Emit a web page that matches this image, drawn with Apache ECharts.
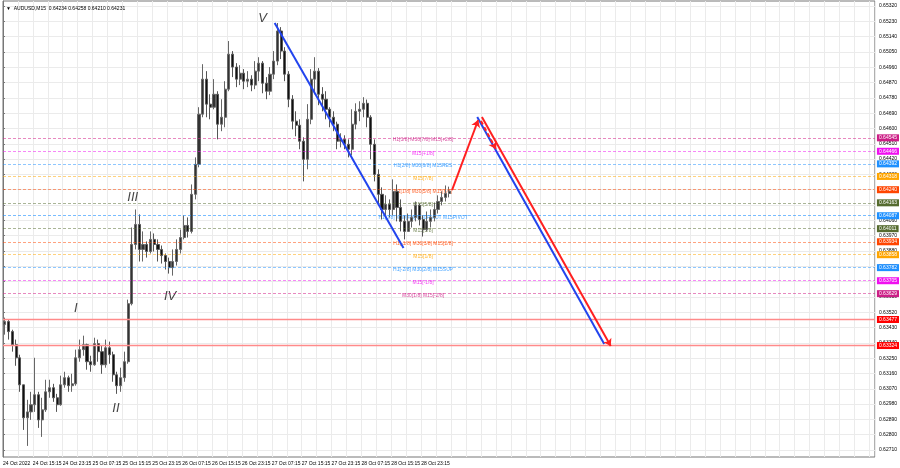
<!DOCTYPE html>
<html><head><meta charset="utf-8">
<script src="https://cdn.jsdelivr.net/npm/echarts@6/dist/echarts.min.js"></script>
<style>html,body{margin:0;padding:0;background:#fff}#c{width:900px;height:468px}</style>
</head><body><div id="c"></div>
<script>
// ---------- data ----------
const SYMBOL_TITLE = 'AUDUSD,M15  0.64234 0.64258 0.64210 0.64231';
const X_TICK_LABELS = ['24 Oct 2022','24 Oct 15:15','24 Oct 23:15','25 Oct 07:15','25 Oct 15:15','25 Oct 23:15','26 Oct 07:15','26 Oct 15:15','26 Oct 23:15','27 Oct 07:15','27 Oct 15:15','27 Oct 23:15','28 Oct 07:15','28 Oct 15:15','28 Oct 23:15'];
const Y_TICK_VALUES = [0.62710,0.62800,0.62890,0.62980,0.63070,0.63160,0.63250,0.63340,0.63430,0.63520,0.63610,0.63700,0.63790,0.63880,0.63970,0.64060,0.64150,0.64240,0.64330,0.64420,0.64510,0.64600,0.64690,0.64780,0.64870,0.64960,0.65050,0.65140,0.65230,0.65320];

// hourly candles (each spans 4 M15 bars)
const OPEN = [0.63447,0.63465,0.63406,0.63329,0.63252,0.63093,0.62899,0.62934,0.62976,0.63035,
0.62887,0.62946,0.63052,0.63076,0.63017,0.62976,0.63093,0.63135,0.63088,0.63099,
0.63252,0.63300,0.63329,0.63229,0.63211,0.63335,0.63288,0.63211,0.63311,0.63270,
0.63152,0.63088,0.63135,0.63229,0.63570,0.63918,0.64036,0.63889,0.63918,0.63877,
0.63948,0.63918,0.63889,0.63853,0.63818,0.63782,0.63818,0.63889,0.63959,0.64030,
0.63995,0.64213,0.64389,0.64684,0.64890,0.64743,0.64725,0.64801,0.64625,0.64666,
0.64831,0.65037,0.64961,0.64890,0.64925,0.64878,0.64890,0.64855,0.64937,0.64984,
0.64866,0.64819,0.64919,0.64996,0.65173,0.65055,0.64919,0.64772,0.64643,0.64619,
0.64525,0.64419,0.64654,0.64890,0.64937,0.64801,0.64772,0.64713,0.64666,0.64625,
0.64525,0.64536,0.64507,0.64478,0.64625,0.64701,0.64713,0.64748,0.64666,0.64507,
0.64330,0.64213,0.64124,0.64154,0.64124,0.64230,0.64136,0.64054,0.63995,0.64054,
0.64077,0.64148,0.64065,0.64006,0.64054,0.64077,0.64124,0.64171,0.64195,0.64218];
const CLOSE = [0.63465,0.63406,0.63329,0.63252,0.63093,0.62899,0.62934,0.62976,0.63035,0.62887,
0.62946,0.63052,0.63076,0.63017,0.62976,0.63093,0.63135,0.63088,0.63099,0.63252,
0.63300,0.63329,0.63229,0.63211,0.63335,0.63288,0.63211,0.63311,0.63270,0.63152,
0.63088,0.63135,0.63229,0.63570,0.63918,0.64036,0.63889,0.63918,0.63877,0.63948,
0.63918,0.63889,0.63853,0.63818,0.63782,0.63818,0.63889,0.63959,0.64030,0.63995,
0.64213,0.64389,0.64684,0.64890,0.64743,0.64725,0.64801,0.64625,0.64666,0.64831,
0.65037,0.64961,0.64890,0.64925,0.64878,0.64890,0.64855,0.64937,0.64984,0.64866,
0.64819,0.64919,0.64996,0.65173,0.65055,0.64919,0.64772,0.64643,0.64619,0.64525,
0.64419,0.64654,0.64890,0.64937,0.64801,0.64772,0.64713,0.64666,0.64625,0.64525,
0.64536,0.64507,0.64478,0.64625,0.64701,0.64713,0.64748,0.64666,0.64507,0.64330,
0.64213,0.64124,0.64154,0.64124,0.64230,0.64136,0.64054,0.63995,0.64054,0.64077,
0.64148,0.64065,0.64006,0.64054,0.64077,0.64124,0.64171,0.64195,0.64218,0.64231];
const LOW = [0.63388,0.63359,0.63288,0.63205,0.63052,0.62828,0.62734,0.62887,0.62934,0.62840,
0.62787,0.62934,0.63017,0.62993,0.62934,0.62970,0.63076,0.63052,0.63052,0.63088,
0.63229,0.63264,0.63182,0.63170,0.63205,0.63229,0.63158,0.63194,0.63217,0.63111,
0.63040,0.63052,0.63111,0.63217,0.63560,0.63889,0.63818,0.63818,0.63841,0.63865,
0.63877,0.63818,0.63806,0.63771,0.63747,0.63735,0.63794,0.63865,0.63948,0.63959,
0.63983,0.64183,0.64372,0.64666,0.64666,0.64654,0.64713,0.64536,0.64584,0.64607,
0.64819,0.64902,0.64843,0.64855,0.64831,0.64843,0.64819,0.64831,0.64878,0.64807,
0.64772,0.64796,0.64890,0.64972,0.65008,0.64878,0.64725,0.64595,0.64554,0.64478,
0.64289,0.64360,0.64625,0.64801,0.64737,0.64701,0.64654,0.64607,0.64584,0.64478,
0.64489,0.64478,0.64430,0.64442,0.64595,0.64643,0.64666,0.64607,0.64419,0.64289,
0.64154,0.64065,0.64077,0.64077,0.64089,0.64054,0.63995,0.63948,0.63995,0.64018,
0.64054,0.64030,0.63965,0.63995,0.64018,0.64054,0.64100,0.64148,0.64171,0.64195];
const HIGH = [0.63488,0.63476,0.63417,0.63359,0.63270,0.63093,0.63005,0.63052,0.63252,0.63052,
0.63017,0.63123,0.63123,0.63099,0.63040,0.63147,0.63170,0.63147,0.63158,0.63300,
0.63359,0.63382,0.63335,0.63264,0.63370,0.63359,0.63323,0.63359,0.63347,0.63288,
0.63170,0.63194,0.63288,0.63594,0.64018,0.64124,0.64095,0.63995,0.63936,0.63995,
0.63983,0.63948,0.63912,0.63865,0.63841,0.63889,0.63948,0.64006,0.64089,0.64077,
0.64271,0.64430,0.64725,0.64978,0.64937,0.64801,0.64890,0.64819,0.64772,0.64878,
0.65114,0.65055,0.64984,0.64972,0.64949,0.64937,0.64913,0.64996,0.65019,0.64996,
0.64902,0.64961,0.65055,0.65220,0.65196,0.65078,0.64937,0.64796,0.64701,0.64654,
0.64548,0.64743,0.64949,0.65019,0.64955,0.64843,0.64819,0.64725,0.64701,0.64640,
0.64572,0.64560,0.64536,0.64713,0.64748,0.64760,0.64784,0.64770,0.64678,0.64536,
0.64360,0.64254,0.64207,0.64183,0.64301,0.64271,0.64183,0.64089,0.64100,0.64124,
0.64171,0.64159,0.64089,0.64112,0.64124,0.64165,0.64207,0.64230,0.64265,0.64258];

// Murrey math / stop levels
const LEVEL_PRICES = [0.64545,0.64466,0.64392,0.64318,0.64240,0.64163,0.64087,0.64011,0.63934,0.63858,0.63782,0.63705,0.63629,0.63477,0.63324];
const LEVEL_TEXTS = ['H1[3/8] M30[7/8] M15[+2/8]','M15[+1/8]','H1[2/8] M30[6/8] M15RES','M15[7/8]','H1[1/8] M30[5/8] M15[6/8]','M15[5/8]','H1[0/8] M30[4/8] M30PIVOT M15PIVOT','M15[3/8]','H1[-1/8] M30[3/8] M15[2/8]','M15[1/8]','H1[-2/8] M30[2/8] M15SUP','M15[-1/8]','M30[1/8] M15[-2/8]','',''];
const LEVEL_KIND = ['ext','plus','res','near','major','minor','pivot','minor','major','near','res','plus','ext','stop','stop'];

// wave labels: [M15 bar index, price]
const WAVE_TEXTS = ['I','II','III','IV','V'];
const WAVE_POINTS = [[78,0.63545],[121,0.62957],[139,0.64197],[179,0.63615],[278,0.65249]];

// trend / projection lines: [M15 bar index, price]
const WAVE_LINE = [[291,0.65220],[429,0.63897]];
const PROJ_UP = [[481,0.64238],[509,0.64650]];
const PROJ_PULLBACK = [[512,0.64644],[528,0.64479]];
const PROJ_BLUE = [[508,0.64667],[644,0.63333]];
const PROJ_RED = [[513,0.64667],[651,0.63321]];

// ---------- styles ----------
const KIND_COLOR = {ext:'#CC1E86',plus:'#F010F0',res:'#1E90FF',near:'#FFA500',major:'#FF4500',minor:'#556B2F',pivot:'#1E90FF',stop:'#FF0000'};
const KIND_LINE = {ext:'rgba(214,40,140,0.55)',plus:'rgba(240,16,240,0.5)',res:'rgba(30,144,255,0.5)',near:'rgba(255,165,0,0.5)',major:'rgba(255,69,0,0.5)',minor:'rgba(85,107,47,0.5)',pivot:'rgba(30,144,255,0.6)',stop:'#FF8A8A'};
const FONT = 'Liberation Sans, Arial, sans-serif';
const BARS_PER_CANDLE = 4;
const TEXT_X = 450;

const chart = echarts.init(document.getElementById('c'), null, {renderer:'canvas'});

const candles = OPEN.map((o,i)=>[i*BARS_PER_CANDLE+2, o, CLOSE[i], LOW[i], HIGH[i]]);

const levelMarks = LEVEL_PRICES.map((p,i)=>{
  const k = LEVEL_KIND[i];
  const c = KIND_COLOR[k];
  return {
    yAxis: p,
    lineStyle: {color:KIND_LINE[k], width: k==='stop' ? 1.3 : 1, type: k==='stop' ? 'solid' : [3,2], opacity:1},
    label: {show:true, position:'end', distance:2, formatter: p.toFixed(5), backgroundColor:c, color:'#fff', fontSize:5, fontFamily:FONT, padding:[1,2,1,2], opacity:1}
  };
});

function lineItem(pts){ return {coords: pts}; }

chart.setOption({
  animation:false,
  textStyle:{fontFamily:FONT},
  title:{text:'{t|▼}  '+SYMBOL_TITLE, left:1, top:1, textStyle:{fontSize:5, fontWeight:'normal', color:'#000', rich:{t:{fontSize:5,color:'#000'}}}},
  grid:{left:1, right:24, top:1, bottom:11, show:true, borderColor:'#777', borderWidth:1, backgroundColor:'#fff'},
  xAxis:{
    type:'value', min:0, max:934, interval:16,
    axisLine:{show:false}, axisTick:{show:false},
    axisLabel:{fontSize:5, color:'#000', align:'left', margin:4, showMinLabel:true, showMaxLabel:false,
      formatter:(v)=>{ if(v%32===0 && v/32 < X_TICK_LABELS.length) return X_TICK_LABELS[v/32]; return ''; }},
    splitLine:{show:true, lineStyle:{color:'#ebebeb', width:1}}
  },
  yAxis:{
    type:'value', position:'right', min:0.626688, max:0.653494, scale:true,
    axisLine:{show:true, lineStyle:{color:'#777'}},
    axisTick:{show:true, length:2, customValues:Y_TICK_VALUES, lineStyle:{color:'#777'}},
    axisLabel:{fontSize:5, color:'#000', margin:4, customValues:Y_TICK_VALUES, formatter:(v)=>v.toFixed(5)},
    splitLine:{show:true, lineStyle:{color:'#ebebeb', width:1}}
  },
  series:[
    {
      type:'candlestick', name:'AUDUSD', data:candles, encode:{x:0, y:[1,2,3,4]},
      barWidth:2.6, z:3,
      itemStyle:{color:'#333', color0:'#111', borderColor:'#666', borderColor0:'#555', borderWidth:1}
    },
    {
      type:'scatter', name:'levels', symbolSize:0, z:2,
      data: LEVEL_PRICES.map((p,i)=>({value:[TEXT_X,p], label:{color:KIND_COLOR[LEVEL_KIND[i]]}})),
      label:{show:true, position:'inside', offset:[0,2], fontSize:5, fontFamily:FONT,
        formatter:(pr)=>LEVEL_TEXTS[pr.dataIndex]},
      markLine:{silent:true, symbol:['none','none'], precision:5, data:levelMarks}
    },
    {
      type:'scatter', name:'waves', symbolSize:0, z:4,
      data: WAVE_POINTS,
      label:{show:true, position:'inside', fontSize:13, fontStyle:'italic', color:'#111', fontFamily:FONT,
        formatter:(pr)=>WAVE_TEXTS[pr.dataIndex]}
    },
    {
      type:'lines', coordinateSystem:'cartesian2d', z:5, symbol:['none','none'],
      lineStyle:{color:'#2244EE', width:2, opacity:1},
      data:[lineItem(WAVE_LINE), lineItem(PROJ_BLUE)]
    },
    {
      type:'lines', coordinateSystem:'cartesian2d', z:6, symbol:['none','arrow'], symbolSize:7,
      lineStyle:{color:'#FF2020', width:2, opacity:1},
      data:[lineItem(PROJ_UP), lineItem(PROJ_RED)]
    },
    {
      type:'lines', coordinateSystem:'cartesian2d', z:6, symbol:['none','arrow'], symbolSize:7,
      lineStyle:{color:'#FF2020', width:2, type:[4,3], opacity:1},
      data:[lineItem(PROJ_PULLBACK)]
    }
  ]
});
</script>
</body></html>
